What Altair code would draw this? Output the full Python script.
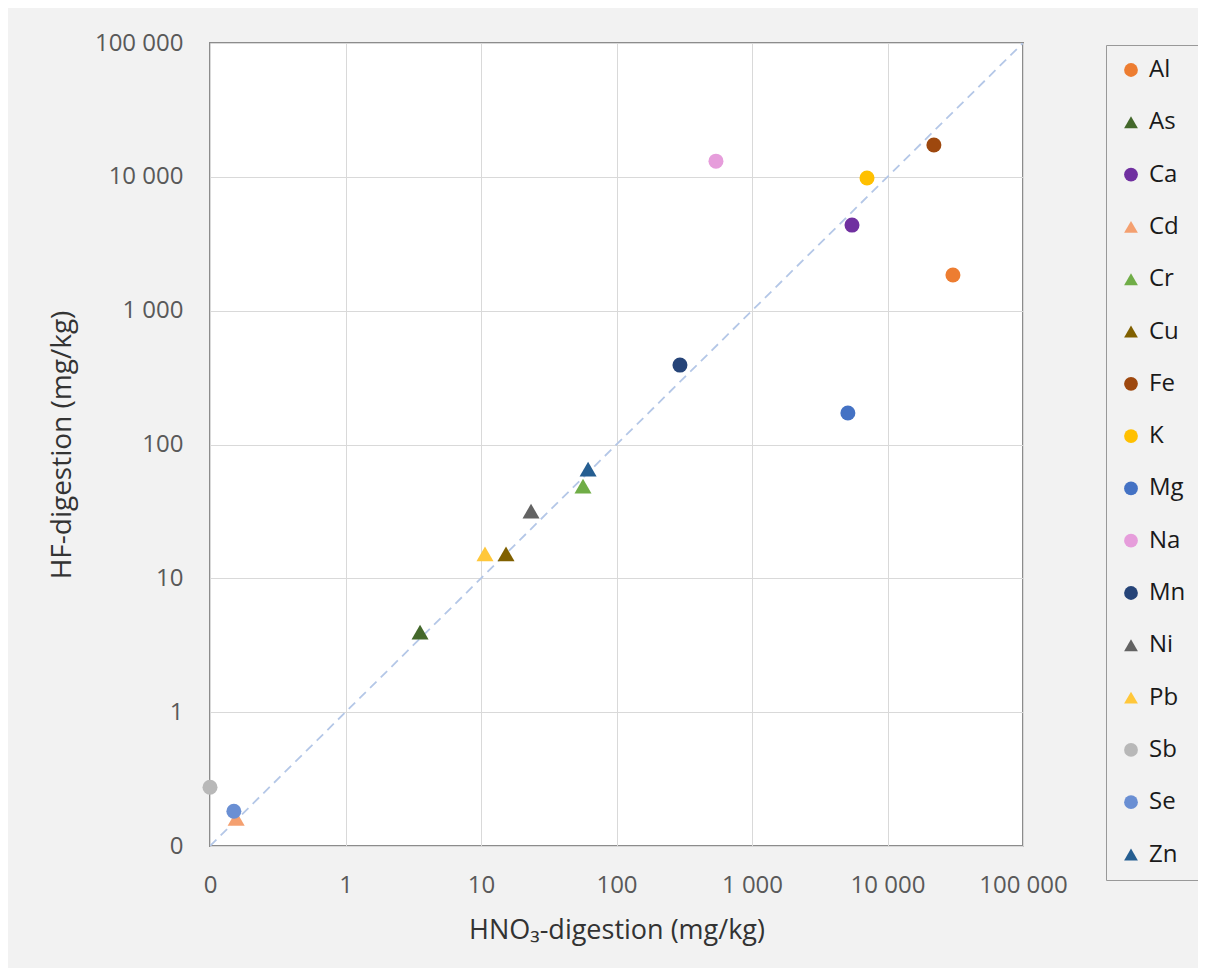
import altair as alt
import pandas as pd

# ---- data ----
elements = ["Al", "As", "Ca", "Cd", "Cr", "Cu", "Fe", "K", "Mg", "Na",
            "Mn", "Ni", "Pb", "Sb", "Se", "Zn"]
hno3 = [30400, 3.55, 5470, 0.156, 56.6, 15.3, 22000, 7060, 5100, 542,
        294, 23.4, 10.7, 0.1, 0.150, 61.7]
hf = [1845, 3.96, 4360, 0.161, 48.9, 15.2, 17300, 9800, 172, 13100,
      392, 31.8, 15.2, 0.275, 0.182, 65.5]
shapes = ["circle", "triangle-up", "circle", "triangle-up", "triangle-up",
          "triangle-up", "circle", "circle", "circle", "circle", "circle",
          "triangle-up", "triangle-up", "circle", "circle", "triangle-up"]
colors = ["#ED7D31", "#43682B", "#7030A0", "#F4A070", "#70AD47", "#806000",
          "#9E480E", "#FFC000", "#4472C4", "#E69DDB", "#264478", "#636363",
          "#FFC73A", "#B8B8B8", "#6A8FD3", "#255E91"]
triangles = ["As", "Cd", "Cr", "Cu", "Ni", "Pb", "Zn"]
diag = [0.1, 100000]
tick_values = [0.1, 1, 10, 100, 1000, 10000, 100000]

df = pd.DataFrame({"Element": elements, "HNO3": hno3, "HF": hf})
df["is_tri"] = df["Element"].isin(triangles)
diag_df = pd.DataFrame({"x": diag, "y": diag})

FONT = "Open Sans"
label_expr = ("datum.value < 1 ? '0' : (datum.value >= 1000 ? "
              "format(datum.value / 1000, 'd') + ' 000' : format(datum.value, 'd'))")

xscale = alt.Scale(type="log", domain=[0.1, 100000], nice=False)
yscale = alt.Scale(type="log", domain=[0.1, 100000], nice=False)

xaxis = alt.Axis(values=tick_values, labelExpr=label_expr, title="HNO₃-digestion (mg/kg)",
                 ticks=False, domain=False, labelPadding=27, titlePadding=20,
                 labelFontSize=24, titleFontSize=27, labelColor="#595959",
                 titleColor="#333333", titleFontWeight="normal", labelFlush=False,
                 labelFont=FONT, titleFont=FONT)
yaxis = alt.Axis(values=tick_values, labelExpr=label_expr, title="HF-digestion (mg/kg)",
                 ticks=False, domain=False, labelPadding=27, titlePadding=18,
                 labelFontSize=24, titleFontSize=28, labelColor="#595959",
                 titleColor="#333333", titleFontWeight="normal", labelFlush=False,
                 labelFont=FONT, titleFont=FONT)

line = alt.Chart(diag_df).mark_line(color="#B4C7E7", strokeWidth=1.8,
                                    strokeDash=[9, 6], clip=True).encode(
    x=alt.X("x:Q", scale=xscale, axis=xaxis),
    y=alt.Y("y:Q", scale=yscale, axis=yaxis),
)

legend = alt.Legend(title=None, orient="none", legendX=896, legendY=2,
                    fillColor="#f2f2f2", strokeColor="#999999", padding=13,
                    rowPadding=28.3, labelFontSize=24, labelFont=FONT,
                    labelColor="#1a1a1a", symbolSize=190, labelOffset=6,
                    symbolStrokeWidth=0, symbolOpacity=1)

points = alt.Chart(df).mark_point(filled=True, opacity=1, clip=False).encode(
    x=alt.X("HNO3:Q", scale=xscale, axis=xaxis),
    y=alt.Y("HF:Q", scale=yscale, axis=yaxis),
    color=alt.Color("Element:N", scale=alt.Scale(domain=elements, range=colors),
                    legend=legend),
    shape=alt.Shape("Element:N", scale=alt.Scale(domain=elements, range=shapes),
                    legend=legend),
    size=alt.condition("datum.is_tri", alt.value(290), alt.value(225)),
)

chart = alt.layer(line, points).properties(
    width=813, height=803,
    autosize=alt.AutoSizeParams(type="none"),
    padding={"left": 202, "top": 35, "right": 175, "bottom": 122},
    background="#f2f2f2",
).configure_view(
    fill="white", stroke="#8c8c8c", strokeWidth=2
).configure_axis(
    gridColor="#d9d9d9", gridWidth=1
)

chart.save("out.html", embed_options={"renderer": "svg", "actions": False})
